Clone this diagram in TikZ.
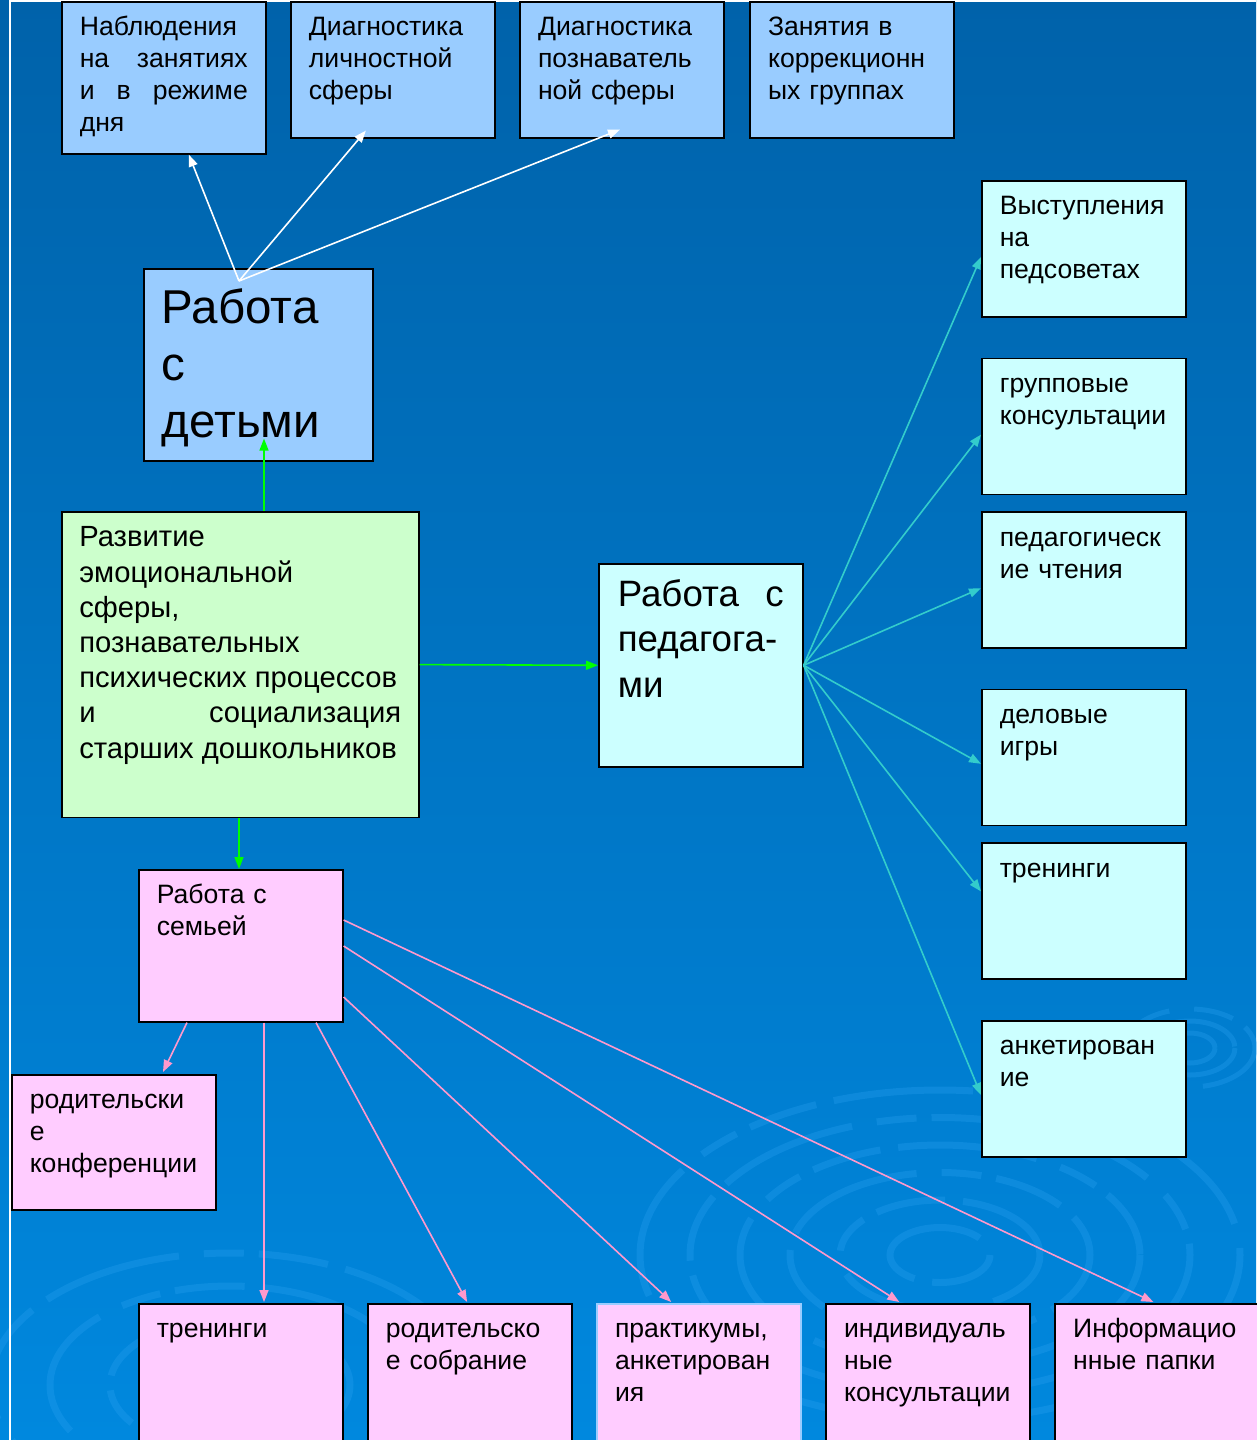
\documentclass[tikz,border=0pt]{standalone}
\usepackage{fontspec}
\setmainfont{Liberation Sans}
\usetikzlibrary{arrows.meta, positioning, calc}

\definecolor{skyfill}{HTML}{99CCFF}
\definecolor{mintfill}{HTML}{CCFFCC}
\definecolor{icefill}{HTML}{CCFFFF}
\definecolor{pinkfill}{HTML}{FFCCFF}
\definecolor{bgtop}{RGB}{0,98,170}
\definecolor{bgmid}{RGB}{0,106,184}
\definecolor{bgbot}{RGB}{0,136,222}
\definecolor{ripplecol}{RGB}{40,160,240}
\definecolor{tealwire}{HTML}{33CCCC}
\definecolor{pinkwire}{HTML}{FF99CC}
\definecolor{limewire}{HTML}{00FF00}

\newcommand\cellfont{\fontsize{26.6}{32}\selectfont}
\newcommand\kidsfont{\fontsize{47.5}{57}\selectfont}
\newcommand\teachfont{\fontsize{36.7}{45.5}\selectfont}
\newcommand\develfont{\fontsize{29.2}{35.2}\selectfont}

\tikzset{
    cell/.style={
        rectangle,
        draw=black,
        line width=1.6pt,
        anchor=north west,
        minimum width=204pt,
        inner xsep=0pt,
        inner ysep=10pt,
        text width=168pt,
        align=left,
        text height=24pt,
        text depth=92pt,
        font=\cellfont
    },
    topcell/.style={cell, fill=skyfill},
    staffcell/.style={cell, fill=icefill},
    familycell/.style={cell, fill=pinkfill},
    hubcell/.style={cell, inner ysep=12pt},
    arrowtip/.style={-{Triangle[length=12pt, width=9pt]}},
    kidwire/.style={draw=white, line width=1.6pt, arrowtip},
    mainwire/.style={draw=limewire, line width=1.6pt, arrowtip},
    staffwire/.style={draw=tealwire, line width=1.6pt, arrowtip},
    familywire/.style={draw=pinkwire, line width=1.6pt, arrowtip},
    ripple/.style={draw=ripplecol, line width=7pt, opacity=0.33,
        dash pattern=on 70pt off 18pt on 140pt off 25pt on 40pt off 15pt}
}

\begin{document}
\begin{tikzpicture}[x=1pt, y=-1pt]

% Background
\useasboundingbox (0,0) rectangle (1256,1440);
\shade[top color=bgtop, middle color=bgmid, bottom color=bgbot] (0,0) rectangle (1256,1440);
\foreach \r in {25,45,65} \draw[ripple, line width=5pt] (1190,1048) ellipse ({\r} and {0.6*\r});
\foreach \r in {50,100,150,200,250,300} \draw[ripple] (940,1255) ellipse ({\r} and {0.55*\r});
\foreach \r in {60,120,180,240} \draw[ripple] (230,1385) ellipse ({\r} and {0.55*\r});
\draw[white, line width=1.5pt] (10,1440) -- (10,0.8) -- (1256,0.8);

% Work with children: top row
\node[topcell, text depth=108pt, align=justify] (obs) at (61,1)
    {Наблюдения\linebreak на занятиях\linebreak и в режиме\linebreak дня};
\node[topcell, right=23.5pt of obs.north east, anchor=north west] (diagpers)
    {Диагностика\\ личностной\\ сферы};
\node[topcell, right=23.5pt of diagpers.north east, anchor=north west] (diagcog)
    {Диагностика\\ познаватель\\ ной сферы};
\node[topcell, right=24.5pt of diagcog.north east, anchor=north west] (corr)
    {Занятия в\\ коррекционн\\ ых группах};

% Main blocks
\node[hubcell, fill=skyfill, minimum width=229pt, text width=193pt,
    text height=43pt, text depth=125pt, font=\kidsfont] (kids) at (143,268)
    {Работа\\ с\\ детьми};
\node[cell, fill=mintfill, minimum width=357pt, text width=322pt, inner ysep=8.6pt,
    text height=26.4pt, text depth=262pt, font=\develfont, align=justify] (devel) at (61,511)
    {Развитие\\ эмоциональной\\ сферы,\\ познавательных\\ психических процессов\\
     и социализация\linebreak старших дошкольников};
\node[hubcell, fill=icefill, minimum width=204pt, text width=166pt, inner ysep=9pt,
    text height=33.2pt, text depth=151.8pt, font=\teachfont, align=justify] (teach) at (598,563)
    {Работа с\linebreak педагога-\\ ми};
\node[familycell, text depth=108pt] (family) at (138,869) {Работа с\\ семьей};

% Work with teachers
\node[staffcell] (pedsov) at (981,180) {Выступления\\ на\\ педсоветах};
\node[staffcell, below=40pt of pedsov.south west, anchor=north west] (grpcons)
    {групповые\\ консультации};
\node[staffcell, below=16pt of grpcons.south west, anchor=north west] (pedread)
    {педагогическ\\ ие чтения};
\node[staffcell, below=40pt of pedread.south west, anchor=north west] (games)
    {деловые\\ игры};
\node[staffcell, below=16pt of games.south west, anchor=north west] (training)
    {тренинги};
\node[staffcell, below=40pt of training.south west, anchor=north west] (survey)
    {анкетирован\\ ие};

% Work with family
\node[familycell, text depth=91pt] (parconf) at (11,1074)
    {родительски\\ е\\ конференции};
\node[familycell, text depth=96pt] (famtrain) at (138,1303) {тренинги};
\node[familycell, text depth=96pt, right=23.5pt of famtrain.north east, anchor=north west] (meeting)
    {родительско\\ е собрание};
\node[familycell, draw=skyfill, text depth=96pt, right=23.5pt of meeting.north east, anchor=north west] (practicum)
    {практикумы,\\ анкетирован\\ ия};
\node[familycell, text depth=96pt, right=23.5pt of practicum.north east, anchor=north west] (indiv)
    {индивидуаль\\ ные\\ консультации};
\node[familycell, text depth=96pt, right=23.5pt of indiv.north east, anchor=north west] (infofold)
    {Информацио\\ нные папки};

% Children connections
\coordinate (kidhub) at ($(kids.north west)+(96,13)$);
\draw[kidwire] (kidhub) -- ($(obs.south)+(25,0)$);
\draw[kidwire] (kidhub) -- ($(diagpers.south)+(-27,-8)$);
\draw[kidwire] (kidhub) -- ($(diagcog.south)+(-2,-9)$);

% Main connections
\draw[mainwire] ($(devel.north west)+(203,0)$) -- ($(kids.south west)+(121,-23)$);
\draw[mainwire] (devel.east) -- (teach.west);
\draw[mainwire] ($(devel.south west)+(178,0)$) -- ($(family.north west)+(101,0)$);

% Teacher connections
\draw[staffwire] (teach.east) -- ($(pedsov.north west)+(0,77)$);
\draw[staffwire] (teach.east) -- ($(grpcons.north west)+(0,77)$);
\draw[staffwire] (teach.east) -- ($(pedread.north west)+(0,77)$);
\draw[staffwire] (teach.east) -- ($(games.north west)+(0,75)$);
\draw[staffwire] (teach.east) -- ($(training.north west)+(0,49)$);
\draw[staffwire] (teach.east) -- ($(survey.north west)+(0,75)$);

% Family connections
\draw[familywire] ($(family.south west)+(49,0)$) -- ($(parconf.north west)+(152,-2)$);
\draw[familywire] ($(family.south west)+(126,0)$) -- ($(famtrain.north west)+(126,-1)$);
\draw[familywire] ($(family.south west)+(178,0)$) -- ($(meeting.north west)+(100,-1)$);
\draw[familywire] ($(family.north east)+(0,128)$) -- ($(practicum.north west)+(75,-1)$);
\draw[familywire] ($(family.north east)+(0,77)$) -- ($(indiv.north west)+(74,-1)$);
\draw[familywire] ($(family.north east)+(0,51)$) -- ($(infofold.north west)+(99,-1)$);

\end{tikzpicture}
\end{document}
